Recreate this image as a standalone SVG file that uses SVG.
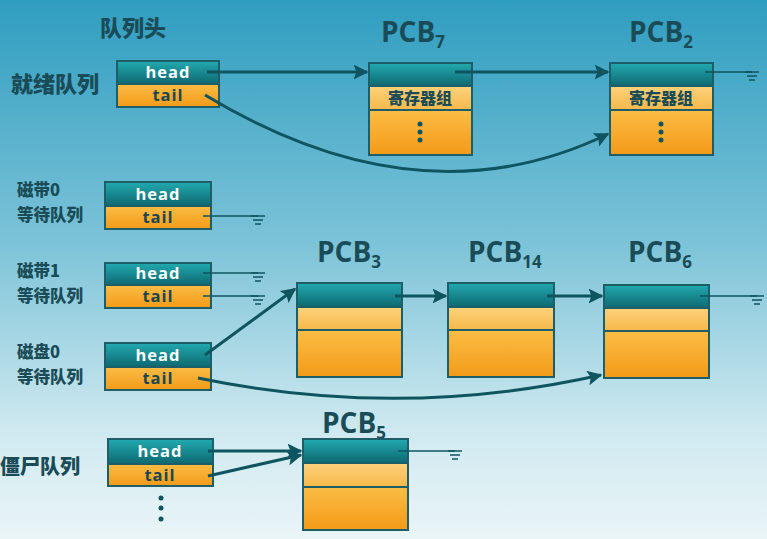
<svg xmlns="http://www.w3.org/2000/svg" width="767" height="539" viewBox="0 0 767 539">
<defs>
<linearGradient id="bg" x1="0" y1="0" x2="0" y2="1">
<stop offset="0" stop-color="#2f9dc0"/>
<stop offset="0.45" stop-color="#7cc3d8"/>
<stop offset="0.8" stop-color="#cfe9f0"/>
<stop offset="1" stop-color="#eaf5f7"/>
</linearGradient>
<linearGradient id="teal" x1="0" y1="0" x2="0" y2="1">
<stop offset="0" stop-color="#22aab0"/>
<stop offset="1" stop-color="#0e6871"/>
</linearGradient>
<linearGradient id="org" x1="0" y1="0" x2="0" y2="1">
<stop offset="0" stop-color="#fbbd45"/>
<stop offset="1" stop-color="#f39a18"/>
</linearGradient>
<linearGradient id="lorg" x1="0" y1="0" x2="0" y2="1">
<stop offset="0" stop-color="#fdd27c"/>
<stop offset="1" stop-color="#f7b84a"/>
</linearGradient>
<marker id="ah" viewBox="0 0 10 10" refX="9" refY="5" markerWidth="5" markerHeight="5" orient="auto" markerUnits="strokeWidth">
<path d="M0,0 L10,5 L0,10 L2,5 z" fill="#0f5560"/>
</marker>
<g id="gnd">
<line x1="-7" y1="0" x2="7" y2="0"/>
<line x1="-5" y1="4" x2="5" y2="4"/>
<line x1="-3" y1="8" x2="3" y2="8"/>
</g>
</defs>
<style>
.lbl{font-family:"Noto Sans CJK SC","Noto Sans",sans-serif;font-weight:900;fill:#1a4c57;}
.sm{font-size:16.5px;}
.hd{font-family:"Open Sans","Liberation Sans",sans-serif;font-weight:bold;font-size:16.5px;letter-spacing:1px;fill:#ffffff;text-anchor:middle;}
.tl{font-family:"Open Sans","Liberation Sans",sans-serif;font-weight:bold;font-size:16.5px;letter-spacing:1px;fill:#1b4650;text-anchor:middle;}
.pcb{font-family:"Open Sans","Liberation Sans",sans-serif;font-weight:bold;font-size:28px;fill:#1a4c57;}
.sub{font-size:17px;}
.box{stroke:#1d5e68;stroke-width:2;}
.cn{fill:none;stroke:#0f5560;stroke-width:3;}
.nl{fill:none;stroke:#0f5560;stroke-width:1.5;}
.g{stroke:#0f5560;stroke-width:1.5;}
.reg{font-family:"Noto Sans CJK SC",sans-serif;font-weight:900;font-size:16px;fill:#1a4c57;text-anchor:middle;}
.dot{fill:#0f5560;}
</style>
<rect width="767" height="539" fill="url(#bg)"/>

<text class="lbl" x="100" y="36" font-size="22">队列头</text>

<g id="ready-queue">
<text class="lbl" x="11" y="92" font-size="22">就绪队列</text>
<rect class="box" x="117" y="61" width="102" height="23" fill="url(#teal)"/>
<rect class="box" x="117" y="84" width="102" height="23" fill="url(#org)"/>
<text class="hd" x="168" y="78">head</text>
<text class="tl" x="168" y="101">tail</text>
</g>

<g id="pcb7">
<text class="pcb" x="381" y="42">PCB<tspan class="sub" dy="6">7</tspan></text>
<rect class="box" x="369" y="63" width="103" height="23" fill="url(#teal)"/>
<rect class="box" x="369" y="86" width="103" height="24" fill="url(#lorg)"/>
<rect class="box" x="369" y="110" width="103" height="45" fill="url(#org)"/>
<text class="reg" x="420" y="104">寄存器组</text>
<circle class="dot" cx="420" cy="124" r="2.5"/><circle class="dot" cx="420" cy="132" r="2.5"/><circle class="dot" cx="420" cy="140" r="2.5"/>
</g>

<g id="pcb2">
<text class="pcb" x="629" y="42">PCB<tspan class="sub" dy="6">2</tspan></text>
<rect class="box" x="610" y="63" width="103" height="23" fill="url(#teal)"/>
<rect class="box" x="610" y="86" width="103" height="24" fill="url(#lorg)"/>
<rect class="box" x="610" y="110" width="103" height="45" fill="url(#org)"/>
<text class="reg" x="661" y="104">寄存器组</text>
<circle class="dot" cx="661" cy="124" r="2.5"/><circle class="dot" cx="661" cy="132" r="2.5"/><circle class="dot" cx="661" cy="140" r="2.5"/>
</g>

<g id="tape0-queue">
<text class="lbl sm" x="17" y="196">磁带0</text>
<text class="lbl sm" x="17" y="221">等待队列</text>
<rect class="box" x="105" y="182" width="106" height="24" fill="url(#teal)"/>
<rect class="box" x="105" y="206" width="106" height="23" fill="url(#org)"/>
<text class="hd" x="158" y="200">head</text>
<text class="tl" x="158" y="223">tail</text>
</g>

<g id="tape1-queue">
<text class="lbl sm" x="17" y="277">磁带1</text>
<text class="lbl sm" x="17" y="302">等待队列</text>
<rect class="box" x="105" y="263" width="106" height="22" fill="url(#teal)"/>
<rect class="box" x="105" y="285" width="106" height="23" fill="url(#org)"/>
<text class="hd" x="158" y="279">head</text>
<text class="tl" x="158" y="302">tail</text>
</g>

<g id="disk0-queue">
<text class="lbl sm" x="17" y="358">磁盘0</text>
<text class="lbl sm" x="17" y="383">等待队列</text>
<rect class="box" x="105" y="343" width="106" height="24" fill="url(#teal)"/>
<rect class="box" x="105" y="367" width="106" height="23" fill="url(#org)"/>
<text class="hd" x="158" y="361">head</text>
<text class="tl" x="158" y="384">tail</text>
</g>

<g id="pcb3">
<text class="pcb" x="317" y="262">PCB<tspan class="sub" dy="6">3</tspan></text>
<rect class="box" x="297" y="283" width="105" height="24" fill="url(#teal)"/>
<rect class="box" x="297" y="307" width="105" height="23" fill="url(#lorg)"/>
<rect class="box" x="297" y="330" width="105" height="47" fill="url(#org)"/>
</g>

<g id="pcb14">
<text class="pcb" x="468" y="262">PCB<tspan class="sub" dy="6">14</tspan></text>
<rect class="box" x="448" y="283" width="106" height="24" fill="url(#teal)"/>
<rect class="box" x="448" y="307" width="106" height="23" fill="url(#lorg)"/>
<rect class="box" x="448" y="330" width="106" height="47" fill="url(#org)"/>
</g>

<g id="pcb6">
<text class="pcb" x="628" y="262">PCB<tspan class="sub" dy="6">6</tspan></text>
<rect class="box" x="604" y="285" width="105" height="23" fill="url(#teal)"/>
<rect class="box" x="604" y="308" width="105" height="23" fill="url(#lorg)"/>
<rect class="box" x="604" y="331" width="105" height="47" fill="url(#org)"/>
</g>

<g id="zombie-queue">
<text class="lbl" x="0" y="474" font-size="20">僵尸队列</text>
<rect class="box" x="108" y="439" width="105" height="25" fill="url(#teal)"/>
<rect class="box" x="108" y="464" width="105" height="22" fill="url(#org)"/>
<text class="hd" x="160" y="457">head</text>
<text class="tl" x="160" y="481">tail</text>
<circle class="dot" cx="161" cy="498" r="2.5"/><circle class="dot" cx="161" cy="508" r="2.5"/><circle class="dot" cx="161" cy="519" r="2.5"/>
</g>

<g id="pcb5">
<text class="pcb" x="322" y="433">PCB<tspan class="sub" dy="6">5</tspan></text>
<rect class="box" x="303" y="439" width="105" height="24" fill="url(#teal)"/>
<rect class="box" x="303" y="463" width="105" height="24" fill="url(#lorg)"/>
<rect class="box" x="303" y="487" width="105" height="43" fill="url(#org)"/>
</g>

<g id="connectors">
<line class="cn" x1="207" y1="72" x2="367" y2="72" marker-end="url(#ah)"/>
<line class="cn" x1="455" y1="72" x2="608" y2="72" marker-end="url(#ah)"/>
<path class="cn" d="M205,95 Q420,225 608,134" marker-end="url(#ah)"/>
<line class="nl" x1="705" y1="72" x2="752" y2="72"/>
<use href="#gnd" class="g" x="752" y="72"/>

<line class="nl" x1="203" y1="216" x2="258" y2="216"/>
<use href="#gnd" class="g" x="258" y="216"/>
<line class="nl" x1="203" y1="273" x2="258" y2="273"/>
<use href="#gnd" class="g" x="258" y="273"/>
<line class="nl" x1="203" y1="296" x2="258" y2="296"/>
<use href="#gnd" class="g" x="258" y="296"/>

<line class="cn" x1="205" y1="355" x2="295" y2="289" marker-end="url(#ah)"/>
<path class="cn" d="M198,378 Q400,420 601,375" marker-end="url(#ah)"/>
<line class="cn" x1="395" y1="296" x2="446" y2="296" marker-end="url(#ah)"/>
<line class="cn" x1="547" y1="296" x2="602" y2="296" marker-end="url(#ah)"/>
<line class="nl" x1="700" y1="296" x2="757" y2="296"/>
<use href="#gnd" class="g" x="757" y="296"/>

<line class="cn" x1="208" y1="451" x2="301" y2="451" marker-end="url(#ah)"/>
<line class="cn" x1="208" y1="476" x2="301" y2="455" marker-end="url(#ah)"/>
<line class="nl" x1="398" y1="451" x2="455" y2="451"/>
<use href="#gnd" class="g" x="455" y="451"/>
</g>
</svg>
